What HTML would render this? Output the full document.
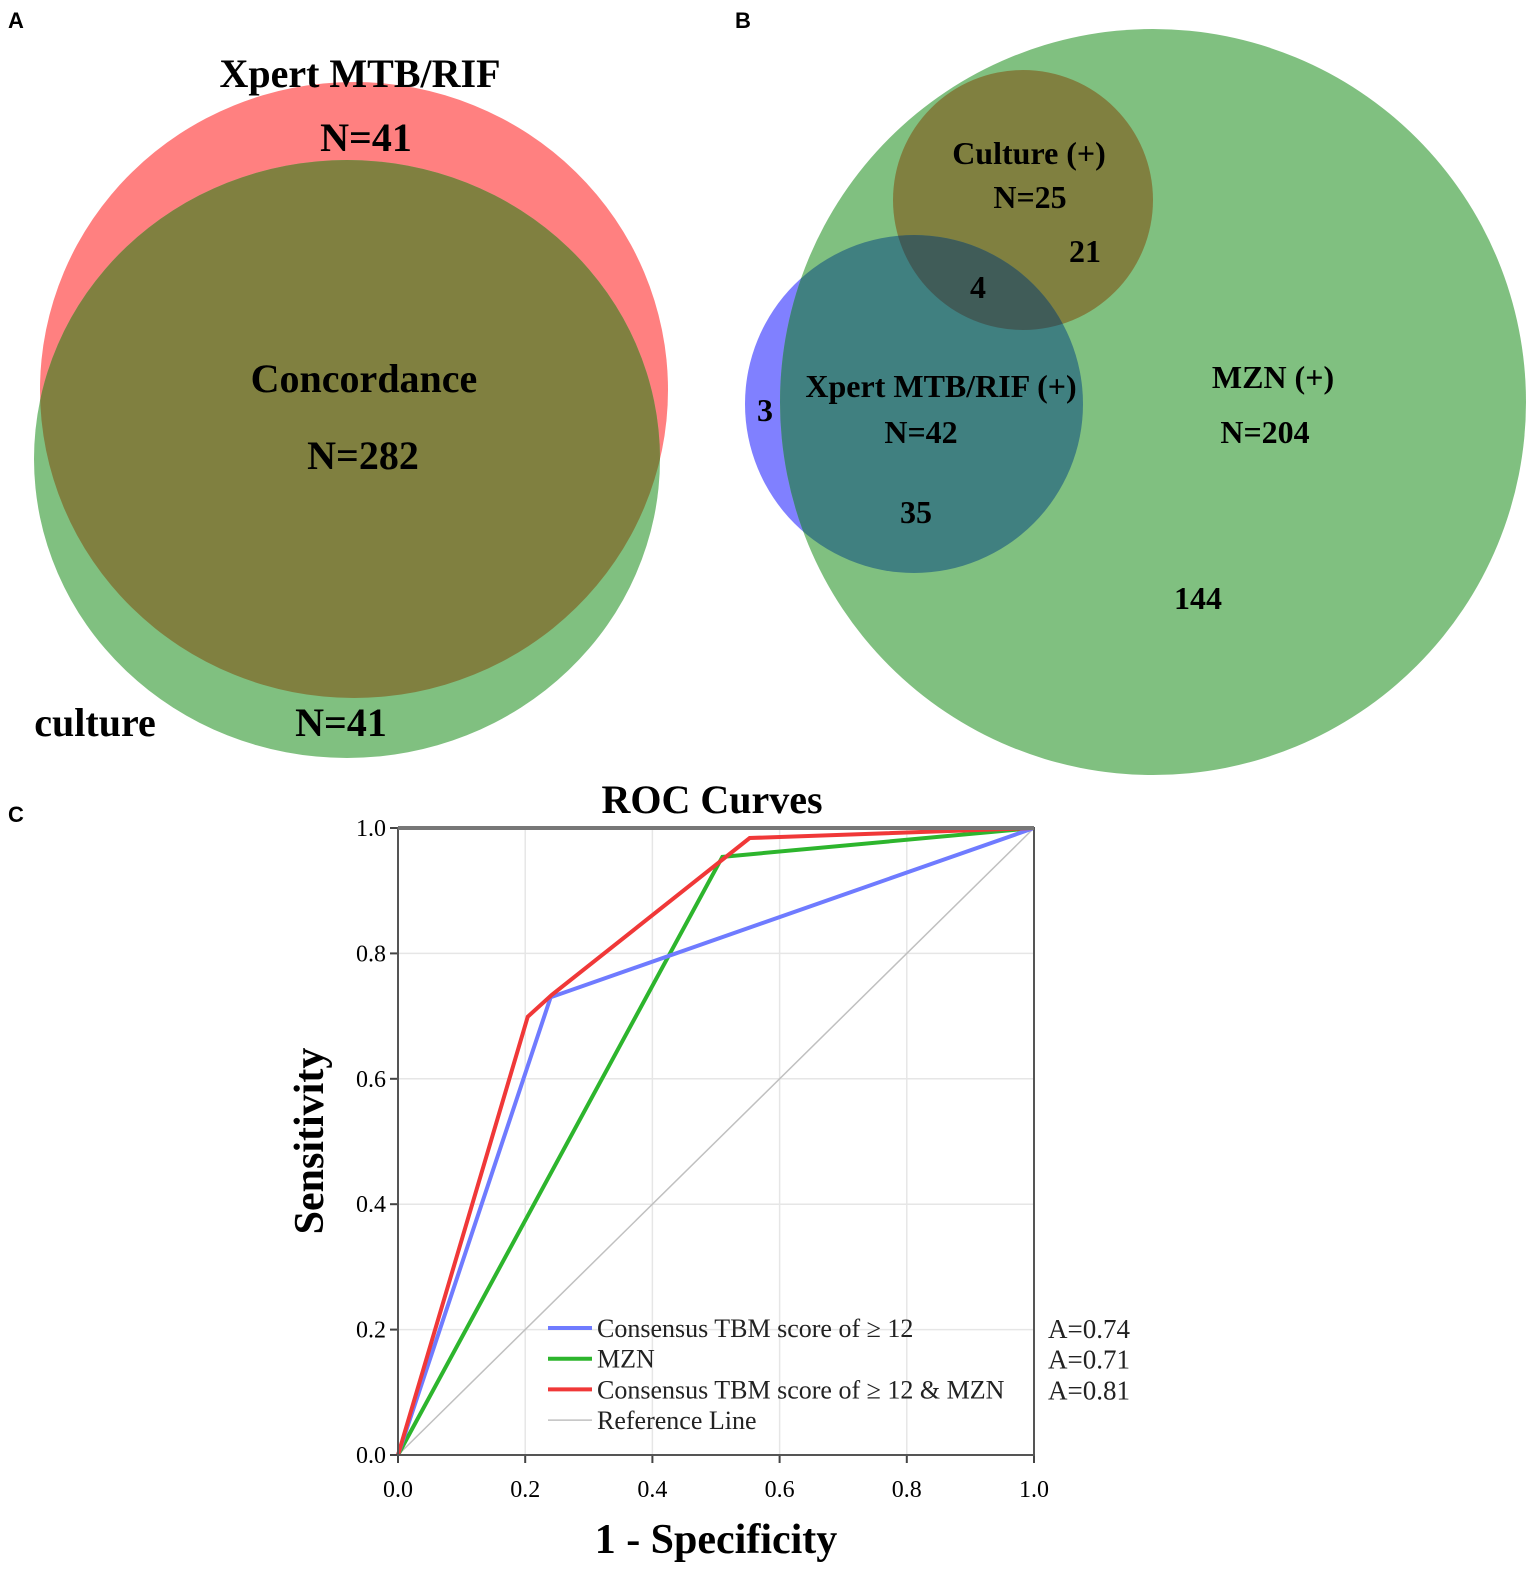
<!DOCTYPE html>
<html><head><meta charset="utf-8"><style>
body{margin:0;background:#fff;}
svg{display:block;}
.s{font-family:"Liberation Serif",serif;}
.b{font-weight:bold;}
</style></head><body>
<svg id="root" width="1535" height="1571" viewBox="0 0 1535 1571" xmlns="http://www.w3.org/2000/svg">
<defs>
<clipPath id="cA"><ellipse cx="354" cy="390" rx="314" ry="308"/></clipPath>
<clipPath id="gB"><circle cx="1153" cy="402" r="373"/></clipPath>
<clipPath id="rB"><circle cx="1023" cy="200" r="130"/></clipPath>
</defs>
<g>
<text x="8" y="28" font-family="Liberation Sans, sans-serif" font-weight="bold" font-size="22">A</text>
<ellipse cx="354" cy="390" rx="314" ry="308" fill="rgb(255,128,128)"/>
<ellipse cx="347" cy="459" rx="313" ry="299" fill="rgb(128,192,128)"/>
<ellipse cx="347" cy="459" rx="313" ry="299" fill="rgb(128,128,64)" clip-path="url(#cA)"/>
<g class="s b" font-size="40" text-anchor="middle">
<text x="360" y="87">Xpert MTB/RIF</text>
<text x="366" y="151">N=41</text>
<text x="364" y="392">Concordance</text>
<text x="363" y="469">N=282</text>
<text x="95" y="736">culture</text>
<text x="341" y="736">N=41</text>
</g>
</g>
<g>
<text x="735" y="28" font-family="Liberation Sans, sans-serif" font-weight="bold" font-size="22">B</text>
<circle cx="1023" cy="200" r="130" fill="rgb(255,128,128)"/>
<circle cx="914" cy="404" r="169" fill="rgb(128,128,255)"/>
<circle cx="1153" cy="402" r="373" fill="rgb(128,192,128)"/>
<g clip-path="url(#gB)">
<circle cx="1023" cy="200" r="130" fill="rgb(128,128,64)"/>
<circle cx="914" cy="404" r="169" fill="rgb(64,128,128)"/>
<circle cx="914" cy="404" r="169" fill="rgb(64,92,88)" clip-path="url(#rB)"/>
</g>
<g class="s b" font-size="32" text-anchor="middle">
<text x="1029" y="164">Culture (+)</text>
<text x="1030" y="208">N=25</text>
<text x="1085" y="262">21</text>
<text x="978" y="298">4</text>
<text x="941" y="397">Xpert MTB/RIF (+)</text>
<text x="921" y="443">N=42</text>
<text x="765" y="421">3</text>
<text x="916" y="523">35</text>
<text x="1273" y="388">MZN (+)</text>
<text x="1265" y="443">N=204</text>
<text x="1198" y="609">144</text>
</g>
</g>
<g>
<text x="8" y="822" font-family="Liberation Sans, sans-serif" font-weight="bold" font-size="22">C</text>
<text x="712" y="813" class="s b" font-size="40" text-anchor="middle">ROC Curves</text>
<g id="grid"></g>
<g id="curves"></g>
<g id="axes"></g>
<text x="716" y="1553" class="s b" font-size="42" text-anchor="middle">1 - Specificity</text>
<text transform="translate(323,1141) rotate(-90)" class="s b" font-size="42" text-anchor="middle">Sensitivity</text>
<g id="legend"></g>
</g>
</svg>
<script>
const ticks=[0,0.2,0.4,0.6,0.8,1.0];
const tickLabels=["0.0","0.2","0.4","0.6","0.8","1.0"];
const seriesNames=["Consensus TBM score of \u2265 12","MZN","Consensus TBM score of \u2265 12 & MZN","Reference Line"];
const seriesColors=["#6f7bff","#2db52d","#f03838","#c0c0c0"];
const aucLabels=["A=0.74","A=0.71","A=0.81"];
const tbmX=[0,0.24,1],tbmY=[0,0.73,1];
const mznX=[0,0.51,1],mznY=[0,0.954,1];
const combX=[0,0.204,0.242,0.553,1],combY=[0,0.699,0.734,0.984,1];
const refX=[0,1],refY=[0,1];
const X0=398,X1=1034,Y0=1455,Y1=828;
const sx=v=>X0+v*(X1-X0), sy=v=>Y0-v*(Y0-Y1);
const NS="http://www.w3.org/2000/svg";
function mk(tag,attrs,parent){const e=document.createElementNS(NS,tag);for(const k in attrs)e.setAttribute(k,attrs[k]);parent.appendChild(e);return e;}
const grid=document.getElementById('grid'),axes=document.getElementById('axes'),curves=document.getElementById('curves'),legend=document.getElementById('legend');
ticks.forEach((t,i)=>{
  if(t>0&&t<1){
    const g1=mk('line',{x1:sx(t),x2:sx(t),y1:Y0,y2:Y1,stroke:'#e6e6e6','stroke-width':1.5},grid);
    
    
    const g2=mk('line',{x1:X0,x2:X1,y1:sy(t),y2:sy(t),stroke:'#e6e6e6','stroke-width':1.5},grid);
    
    
  }
  const tx=mk('text',{x:sx(t),y:Y0+42,'font-size':24,'text-anchor':'middle','class':'s'},axes);tx.textContent=tickLabels[i];
  
  
  const ty=mk('text',{x:X0-12,y:sy(t)+8,'font-size':24,'text-anchor':'end','class':'s'},axes);ty.textContent=tickLabels[i];
  
  
  const tk=mk('line',{x1:X0-8,x2:X0,y1:sy(t),y2:sy(t),stroke:'#444','stroke-width':2},axes);
  
  
  const tk2=mk('line',{x1:sx(t),x2:sx(t),y1:Y0,y2:Y0+8,stroke:'#444','stroke-width':2},axes);
  
  
});
const frame=mk('rect',{x:X0,y:Y1,width:X1-X0,height:Y0-Y1,fill:'none',stroke:'#555','stroke-width':2},axes);


const topb=mk('line',{x1:X0,x2:X1,y1:Y1,y2:Y1,stroke:'#777','stroke-width':4},axes);


function line(xs,ys,col,w,name){
  const p=mk('polyline',{points:xs.map((x,i)=>sx(x)+','+sy(ys[i])).join(' '),fill:'none',stroke:col,'stroke-width':w,'stroke-linejoin':'miter'},curves);
  
  
}
line(refX,refY,seriesColors[3],1.5,'reference-line');
line(mznX,mznY,seriesColors[1],4,'mzn-curve');
line(tbmX,tbmY,seriesColors[0],4,'tbm-score-curve');
line(combX,combY,seriesColors[2],4,'combined-curve');
seriesNames.forEach((n,i)=>{
  const y=1328+i*30.7;
  const l=mk('line',{x1:548,x2:592,y1:y,y2:y,stroke:seriesColors[i],'stroke-width':i==3?1.5:4},legend);
  
  
  const t=mk('text',{x:597,y:y+9,'font-size':26,'class':'s',fill:'#222'},legend);t.textContent=n;
  
  
  if(i<3){const a=mk('text',{x:1048,y:y+10,'font-size':27,'class':'s',fill:'#222'},legend);a.textContent=aucLabels[i];
  
  }
});
</script>
</body></html>
